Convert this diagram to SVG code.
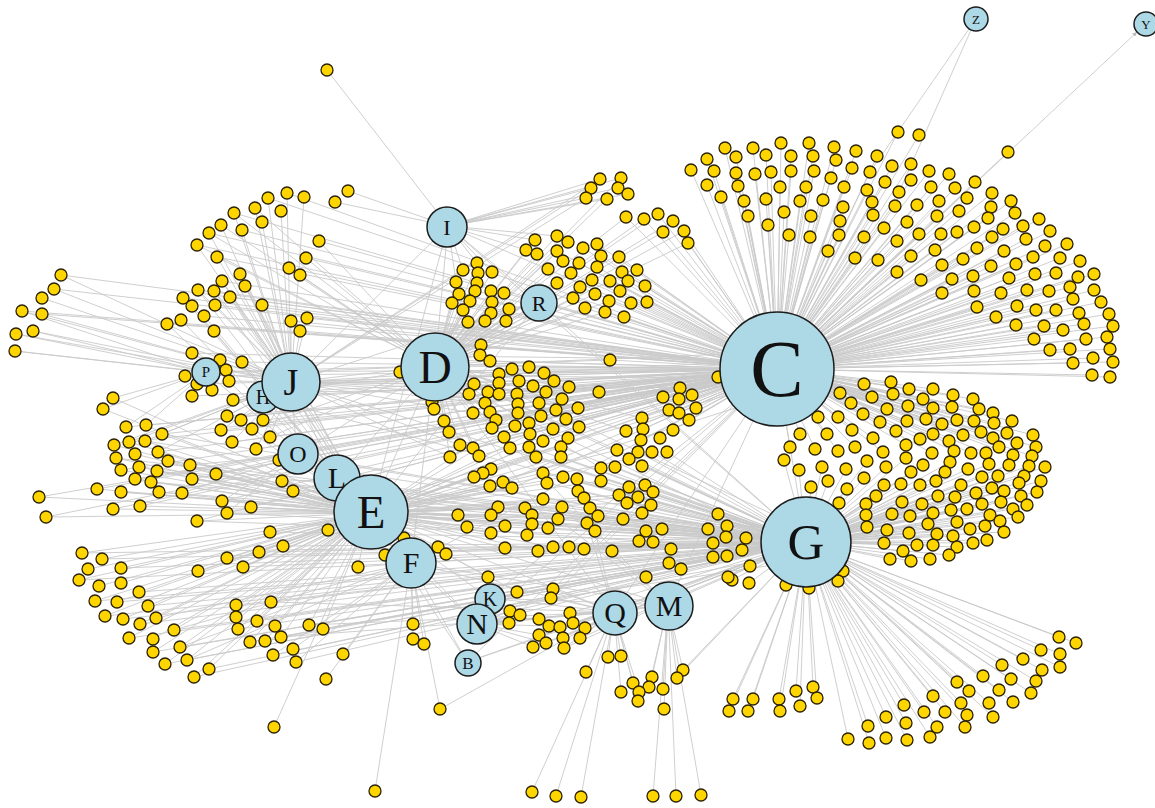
<svg xmlns="http://www.w3.org/2000/svg" width="1155" height="808" viewBox="0 0 1155 808">
<style>
.e path{fill:none;stroke:#c9c9c9;stroke-width:0.9}
.y circle{fill:#FFD500;stroke:#2b2200;stroke-width:1.3}
.h circle{fill:#ADD8E6;stroke:#1c1c1c;stroke-width:1.5}
.h text{font-family:"Liberation Serif","Times New Roman",serif;fill:#111;text-anchor:middle}
</style>
<defs>
<marker id="ah" viewBox="0 0 10 10" refX="10" refY="5" markerWidth="5" markerHeight="5" orient="auto"><path d="M0 0L10 5L0 10z" fill="#b8b8b8"/></marker>
</defs>
<rect width="1155" height="808" fill="#fff"/>
<g id="edges" class="e">
<path id="e-C" d="M898 132L777 369M919 135L777 369M1008 152L777 369M725 148L777 369M753 148L777 369M781 143L777 369M809 143L777 369M834 147L777 369M856 151L777 369M877 156L777 369M707 159L777 369M736 157L777 369M766 155L777 369M791 156L777 369M813 156L777 369M836 160L777 369M852 168L777 369M892 166L777 369M911 164L777 369M929 171L777 369M949 174L777 369M975 182L777 369M691 170L777 369M714 171L777 369M736 173L777 369M755 174L777 369M771 172L777 369M791 171L777 369M814 171L777 369M831 178L777 369M870 172L777 369M885 182L777 369M911 180L777 369M931 187L777 369M955 188L777 369M992 193L777 369M1011 201L777 369M707 185L777 369M738 186L777 369M780 187L777 369M806 187L777 369M844 187L777 369M867 190L777 369M899 192L777 369M967 198L777 369M721 197L777 369M744 201L777 369M766 199L777 369M800 201L777 369M823 200L777 369M843 207L777 369M872 202L777 369M895 206L777 369M917 205L777 369M939 201L777 369M959 211L777 369M991 207L777 369M1015 213L777 369M1039 219L777 369M748 216L777 369M784 212L777 369M811 216L777 369M840 221L777 369M873 215L777 369M907 222L777 369M937 216L777 369M988 218L777 369M1023 226L777 369M1050 231L777 369M768 225L777 369M789 235L777 369M810 237L777 369M839 235L777 369M864 237L777 369M884 228L777 369M919 234L777 369M941 234L777 369M957 232L777 369M974 227L777 369M1003 229L777 369M1026 239L777 369M1045 246L777 369M1067 244L777 369M828 251L777 369M855 258L777 369M878 260L777 369M897 241L777 369M911 256L777 369M935 250L777 369M963 259L777 369M977 248L777 369M992 237L777 369M1004 251L777 369M1033 257L777 369M1060 258L777 369M1080 261L777 369M897 272L777 369M921 280L777 369M942 265L777 369M952 279L777 369M973 276L777 369M991 266L777 369M1009 278L777 369M1016 264L777 369M1035 274L777 369M1056 273L777 369M1078 277L777 369M1094 274L777 369M942 293L777 369M974 291L777 369M1001 293L777 369M1027 290L777 369M1049 291L777 369M1070 287L777 369M1094 290L777 369M977 307L777 369M1017 306L777 369M1036 310L777 369M1056 310L777 369M1073 299L777 369M1101 302L777 369M996 317L777 369M1016 325L777 369M1044 326L777 369M1063 330L777 369M1079 313L777 369M1084 324L777 369M1109 314L777 369M1113 326L777 369M1034 339L777 369M1086 339L777 369M1107 337L777 369M1050 350L777 369M1070 349L777 369M1110 349L777 369M1073 363L777 369M1093 358L777 369M1113 362L777 369M1092 375L777 369M1110 377L777 369"/>
<path id="e-C2" d="M864 384L777 369M891 382L777 369M893 394L777 369M909 389L777 369M933 389L777 369M953 395L777 369M973 399L777 369M840 393L777 369M872 397L777 369M923 399L777 369M851 403L777 369M887 409L777 369M908 406L777 369M933 408L777 369M952 407L777 369M979 409L777 369M993 413L777 369M1012 421L777 369M818 417L777 369M838 417L777 369M863 414L777 369M880 422L777 369M907 421L777 369M926 419L777 369M942 424L777 369M957 420L777 369M974 421L777 369M994 423L777 369M800 434L777 369M827 434L777 369M852 430L777 369M873 438L777 369M896 431L777 369M920 439L777 369M933 434L777 369M949 441L777 369M963 435L777 369M981 432L777 369M993 438L777 369M1007 433L777 369M1017 443L777 369M1033 435L777 369M790 447L777 369M815 449L777 369M838 451L777 369M855 447L777 369M883 452L777 369M906 445L777 369M932 453L777 369M954 451L777 369M971 453L777 369M986 453L777 369M999 447L777 369M1013 455L777 369M1036 447L777 369M1032 456L777 369M680 388L777 369M692 395L777 369M663 397L777 369M679 399L777 369M669 410L777 369M679 413L777 369M696 408L777 369M689 420L777 369M642 418L777 369M643 429L777 369M626 431L777 369M673 430L777 369M641 440L777 369M660 438L777 369M610 360L777 369M599 392L777 369M718 377L777 369M512 369L777 369M529 367L777 369M544 373L777 369M519 381L777 369M554 381L777 369M533 386L777 369M569 387L777 369M517 394L777 369M546 392L777 369M562 399L777 369M518 404L777 369M539 403L777 369M556 410L777 369M578 408L777 369M518 413L777 369M541 416L777 369M566 419L777 369M515 426L777 369M529 423L777 369M553 429L777 369M579 427L777 369M530 434L777 369M543 441L777 369M568 438L777 369M583 248L777 369M597 244L777 369M601 256L777 369M619 257L777 369M579 263L777 369M597 267L777 369M622 272L777 369M637 270L777 369M592 280L777 369M610 281L777 369M628 281L777 369M645 286L777 369M620 291L777 369M609 301L777 369M631 303L777 369M647 302L777 369M605 312L777 369M624 317L777 369M626 217L777 369M644 219L777 369M658 214L777 369M673 221L777 369M663 232L777 369M684 231L777 369M688 243L777 369M490 361L777 369M499 374L777 369M488 392L777 369M485 403L777 369M490 412L777 369M496 420L777 369M504 437L777 369M473 448L777 369M479 456L777 369M491 469L777 369M503 482L777 369M512 488L777 369M557 251L777 369M571 273L777 369M580 287L777 369M585 308L777 369M287 193L777 369M268 198L777 369M242 230L777 369M319 241L777 369M306 258L777 369M289 268L777 369M262 305L777 369M242 362L777 369M39 497L777 369M46 517L777 369M97 489L777 369M553 589L777 369M551 598L777 369"/>
<path id="e-G" d="M784 460L806 542M822 467L806 542M846 469L806 542M867 461L806 542M886 467L806 542M906 458L806 542M923 465L806 542M950 462L806 542M968 469L806 542M989 464L806 542M1009 465L806 542M1029 466L806 542M1045 467L806 542M799 470L806 542M864 478L806 542M911 472L806 542M936 481L806 542M945 472L806 542M982 477L806 542M998 476L806 542M1024 476L806 542M1041 481L806 542M811 487L806 542M828 481L806 542M847 489L806 542M884 485L806 542M901 484L806 542M920 485L806 542M961 485L806 542M976 493L806 542M992 488L806 542M1004 491L806 542M1019 483L806 542M1037 492L806 542M839 503L806 542M866 504L806 542M876 496L806 542M902 502L806 542M922 504L806 542M938 496L806 542M955 497L806 542M982 504L806 542M1001 502L806 542M1021 496L806 542M1027 505L806 542M866 515L806 542M892 514L806 542M910 516L806 542M933 513L806 542M951 510L806 542M967 509L806 542M990 515L806 542M1013 509L806 542M1018 517L806 542M867 527L806 542M887 530L806 542M909 533L806 542M928 524L806 542M937 534L806 542M957 522L806 542M970 529L806 542M985 526L806 542M1000 521L806 542M1004 532L806 542M884 543L806 542M917 545L806 542M933 545L806 542M953 536L806 542M957 547L806 542M973 543L806 542M987 540L806 542M890 559L806 542M903 551L806 542M911 561L806 542M930 559L806 542M949 555L806 542M843 571L806 542M838 581L806 542M732 580L806 542M749 583L806 542M786 585L806 542M809 588L806 542M1059 637L806 542M1076 643L806 542M1041 650L806 542M1060 654L806 542M1060 667L806 542M1023 659L806 542M1042 670L806 542M1036 681L806 542M1031 693L806 542M1002 665L806 542M983 676L806 542M1011 679L806 542M999 690L806 542M1013 702L806 542M989 703L806 542M993 717L806 542M957 682L806 542M969 691L806 542M961 703L806 542M967 715L806 542M965 727L806 542M933 696L806 542M904 705L806 542M924 712L806 542M945 712L806 542M937 727L806 542M930 737L806 542M906 723L806 542M907 740L806 542M886 717L806 542M868 726L806 542M886 738L806 542M869 743L806 542M848 739L806 542M733 699L806 542M753 699L806 542M729 711L806 542M748 711L806 542M779 699L806 542M780 711L806 542M796 691L806 542M813 687L806 542M817 698L806 542M800 706L806 542M718 514L806 542M708 529L806 542M727 526L806 542M713 543L806 542M726 537L806 542M713 557L806 542M727 556L806 542M728 577L806 542M746 538L806 542M742 550L806 542M750 566L806 542M646 577L806 542M617 450L806 542M638 452L806 542M652 452L806 542M667 452L806 542M629 459L806 542M642 466L806 542M601 468L806 542M615 467L806 542M629 487L806 542M645 485L806 542M653 492L806 542M619 495L806 542M638 497L806 542M627 503L806 542M651 505L806 542M623 519L806 542M642 513L806 542M601 481L806 542M646 531L806 542M662 529L806 542M639 541L806 542M653 542L806 542M671 549L806 542M669 563L806 542M681 569L806 542M577 479L806 542M578 491L806 542M584 498L806 542M590 508L806 542M598 516L806 542M587 523L806 542M595 531L806 542M569 547L806 542M584 549L806 542M612 551L806 542M510 448L806 542M529 447L806 542M561 447L806 542M536 457L806 542M561 457L806 542M543 473L806 542M563 477L806 542M547 483L806 542M562 507L806 542M558 519L806 542M548 528L806 542M553 547L806 542M538 551L806 542M505 548L806 542M525 508L806 542M532 515L806 542M283 546L806 542M259 552L806 542M82 553L806 542M79 580L806 542M95 601L806 542M105 616L806 542M129 638L806 542M153 652L806 542M165 664L806 542M194 677L806 542M236 605L806 542M250 642L806 542M273 655L806 542M296 662L806 542M570 613L806 542M573 623L806 542M585 628L806 542M580 638L806 542M564 648L806 542M683 670L806 542M677 678L806 542M539 635L806 542M546 643L806 542M533 647L806 542"/>
<path id="e-D" d="M477 263L435 366M463 270L435 366M492 272L435 366M478 273L435 366M456 282L435 366M477 283L435 366M475 291L435 366M491 291L435 366M504 293L435 366M459 294L435 366M470 301L435 366M492 302L435 366M452 303L435 366M463 310L435 366M509 309L435 366M491 313L435 366M468 322L435 366M485 321L435 366M506 321L435 366M535 240L435 366M557 236L435 366M568 242L435 366M526 250L435 366M537 254L435 366M557 251L435 366M563 261L435 366M548 269L435 366M571 273L435 366M557 283L435 366M580 287L435 366M573 298L435 366M585 308L435 366M595 294L435 366M609 301L435 366M605 312L435 366M621 178L435 366M607 199L435 366M626 217L435 366M644 219L435 366M658 214L435 366M673 221L435 366M663 232L435 366M684 231L435 366M688 243L435 366M481 345L435 366M480 355L435 366M490 361L435 366M499 374L435 366M474 384L435 366M499 383L435 366M469 394L435 366M488 392L435 366M499 394L435 366M485 403L435 366M432 402L435 366M434 409L435 366M473 413L435 366M490 412L435 366M444 421L435 366M449 432L435 366M496 420L435 366M492 428L435 366M460 445L435 366M473 448L435 366M504 437L435 366M450 457L435 366M479 456L435 366M400 372L435 366M319 241L435 366M306 258L435 366M289 268L435 366M300 275L435 366M255 208L435 366M234 213L435 366M221 225L435 366M209 233L435 366M197 245L435 366M217 257L435 366M252 429L435 366M270 437L435 366M642 418L435 366M626 431L435 366M617 450L435 366M601 468L435 366M599 392L435 366M610 360L435 366"/>
<path id="e-E" d="M510 448L370 513M529 447L370 513M561 447L370 513M536 457L370 513M561 457L370 513M491 469L370 513M483 473L370 513M474 477L370 513M543 473L370 513M563 477L370 513M547 483L370 513M490 486L370 513M503 482L370 513M512 488L370 513M543 499L370 513M498 507L370 513M525 508L370 513M562 507L370 513M458 515L370 513M491 515L370 513M532 515L370 513M558 519L370 513M467 527L370 513M505 526L370 513M532 524L370 513M548 528L370 513M491 533L370 513M527 535L370 513M438 547L370 513M446 554L370 513M505 548L370 513M538 551L370 513M553 547L370 513M543 441L370 513M530 434L370 513M515 426L370 513M518 413L370 513M162 434L370 513M114 445L370 513M129 442L370 513M145 441L370 513M158 452L370 513M116 458L370 513M135 454L370 513M168 461L370 513M121 470L370 513M139 467L370 513M157 471L370 513M135 479L370 513M151 482L370 513M192 479L370 513M216 474L370 513M97 489L370 513M121 492L370 513M159 492L370 513M39 497L370 513M113 509L370 513M140 506L370 513M46 517L370 513M197 521L370 513M222 501L370 513M227 513L370 513M251 507L370 513M282 481L370 513M293 491L370 513M328 530L370 513M270 532L370 513M283 546L370 513M227 558L370 513M243 567L370 513M259 552L370 513M358 567L370 513M82 553L370 513M102 559L370 513M88 569L370 513M121 568L370 513M79 580L370 513M99 586L370 513M121 583L370 513M139 592L370 513M95 601L370 513M117 602L370 513M148 606L370 513M198 571L370 513M105 616L370 513M123 619L370 513M140 624L370 513M156 618L370 513M174 630L370 513M129 638L370 513M153 639L370 513M153 652L370 513M180 647L370 513M165 664L370 513M187 660L370 513M194 677L370 513M209 669L370 513M236 605L370 513M271 602L370 513M236 617L370 513M257 621L370 513M275 626L370 513M238 629L370 513M250 642L370 513M265 641L370 513M281 637L370 513M309 625L370 513M323 629L370 513M274 727L370 513M183 298L370 513M192 306L370 513M204 316L370 513M167 324L370 513M181 320L370 513M214 331L370 513M240 274L370 513M222 281L370 513M245 286L370 513M198 290L370 513M214 291L370 513M230 297L370 513M227 416L370 513M241 420L370 513M113 398L370 513M103 409L370 513M488 577L370 513M517 592L370 513M617 450L370 513M629 459L370 513M601 481L370 513M619 495L370 513M627 503L370 513M623 519L370 513M638 497L370 513M646 531L370 513"/>
<path id="e-J" d="M287 193L291 382M304 197L291 382M268 198L291 382M255 208L291 382M281 211L291 382M234 213L291 382M262 222L291 382M221 225L291 382M242 230L291 382M209 233L291 382M197 245L291 382M217 257L291 382M240 274L291 382M222 281L291 382M245 286L291 382M198 290L291 382M214 291L291 382M230 297L291 382M215 305L291 382M262 305L291 382M291 321L291 382M307 318L291 382M300 331L291 382M61 275L291 382M54 289L291 382M42 298L291 382M22 311L291 382M42 314L291 382M33 331L291 382M16 334L291 382M15 351L291 382M242 362L291 382M229 381L291 382M233 400L291 382M227 416L291 382M241 420L291 382M263 420L291 382M221 430L291 382M252 429L291 382M232 442L291 382M270 437L291 382M256 449L291 382M162 434L291 382M129 442L291 382M145 441L291 382M114 445L291 382M158 452L291 382M600 179L291 382M591 188L291 382M586 198L291 382M474 384L291 382M469 394L291 382M485 403L291 382M473 413L291 382M460 445L291 382M450 457L291 382M512 369L291 382M519 381L291 382M533 386L291 382M546 392L291 382"/>
<path id="e-mesh" d="M162 434L777 369M129 442L777 369M158 452L777 369M135 479L777 369M192 479L777 369M216 474L777 369M121 470L777 369M113 509L777 369M140 506L777 369M197 521L777 369M222 501L777 369M251 507L777 369M192 353L777 369M185 376L777 369M197 384L777 369M192 396L777 369M126 427L777 369M146 425L777 369M233 400L777 369M227 416L777 369M263 420L777 369M221 430L777 369M232 442L777 369M256 449L777 369M61 275L777 369M42 314L777 369M22 311L777 369M54 289L777 369M234 213L777 369M209 233L777 369M197 245L777 369M217 257L777 369M222 281L777 369M198 290L777 369M214 291L777 369M230 297L777 369M215 305L777 369M183 298L777 369M204 316L777 369M167 324L777 369M300 331L777 369M291 321L777 369M307 318L777 369M162 434L806 542M145 441L806 542M168 461L806 542M157 471L806 542M151 482L806 542M159 492L806 542M121 492L806 542M139 467L806 542M116 458L806 542M192 479L806 542M197 521L806 542M227 513L806 542M251 507L806 542M270 532L806 542M227 558L806 542M243 567L806 542M121 568L806 542M102 559L806 542M139 592L806 542M148 606L806 542M117 602L806 542M123 619L806 542M140 624L806 542M174 630L806 542M180 647L806 542M187 660L806 542M209 669L806 542M238 629L806 542M257 621L806 542M265 641L806 542M281 637L806 542M309 625L806 542M323 629L806 542M562 507L668 605M558 519L668 605M595 531L614 612M587 523L614 612"/>
<path id="e-P" d="M192 353L206 372M220 360L206 372M226 370L206 372M185 376L206 372M197 384L206 372M212 390L206 372M192 396L206 372M113 398L206 372M103 409L206 372M126 427L206 372M146 425L206 372M15 351L206 372M16 334L206 372M33 331L206 372M22 311L206 372"/>
<path id="e-O" d="M279 460L297 455M190 465L297 455M182 493L297 455M216 474L297 455M222 501L297 455M227 513L297 455M282 481L336 480M293 491L336 480"/>
<path id="e-F" d="M385 555L411 563M404 538L411 563M413 624L411 563M413 639L411 563M424 644L411 563M440 709L411 563M375 791L411 563M273 655L411 563M293 649L411 563M296 662L411 563M343 654L411 563M326 679L411 563M358 567L411 563M156 618L411 563M174 630L411 563M180 647L411 563M187 660L411 563"/>
<path id="e-I" d="M327 70L448 226M348 191L448 226M335 202L448 226M600 179L448 226M621 178L448 226M591 188L448 226M618 188L448 226M586 198L448 226M607 199L448 226M628 194L448 226M477 263L448 226M463 270L448 226M492 272L448 226M456 282L448 226M535 240L448 226M526 250L448 226M557 236L448 226"/>
<path id="e-N" d="M488 577L477 624M517 592L477 624M510 611L477 624M520 615L477 624M509 623L477 624M539 619L477 624M549 626L477 624M539 635L477 624M546 643L477 624M533 647L477 624"/>
<path id="e-Q" d="M553 589L614 612M551 598L614 612M560 627L614 612M570 613L614 612M573 623L614 612M585 628L614 612M580 638L614 612M563 638L614 612M564 648L614 612M608 657L614 612M621 656L614 612M586 672L614 612M633 683L614 612M621 692L614 612M639 692L614 612M638 701L614 612M532 792L614 612M556 796L614 612M581 797L614 612M440 709L614 612M271 602L614 612M281 637L614 612M309 625L614 612"/>
<path id="e-M" d="M652 677L668 605M649 687L668 605M663 689L668 605M664 709L668 605M683 670L668 605M677 678L668 605M653 796L668 605M676 796L668 605M701 795L668 605"/>
<path id="e-hubs" d="M777 369L435 366M777 369L291 382M777 369L370 513M777 369L806 542M777 369L448 226M777 369L539 302M777 369L297 455M777 369L336 480M777 369L411 563M777 369L614 612M777 369L668 605M777 369L477 624M777 369L489 598M777 369L263 397M777 369L206 372M777 369L467 662M806 542L370 513M806 542L435 366M806 542L291 382M806 542L411 563M806 542L477 624M806 542L489 598M806 542L614 612M806 542L336 480M806 542L297 455M806 542L467 662M806 542L448 226M806 542L539 302M806 542L263 397M435 366L291 382M435 366L370 513M435 366L448 226M435 366L539 302M435 366L297 455M435 366L336 480M435 366L411 563M435 366L263 397M435 366L206 372M435 366L614 612M435 366L668 605M370 513L291 382M370 513L411 563M370 513L448 226M370 513L614 612M370 513L668 605M370 513L477 624M370 513L489 598M370 513L263 397M370 513L206 372M370 513L539 302M291 382L448 226M291 382L411 563M291 382L297 455M291 382L336 480M291 382L206 372M291 382L539 302M411 563L614 612M411 563L668 605M411 563L477 624M477 624L614 612M477 624L668 605M489 598L614 612M489 598L668 605M467 662L370 513M467 662L411 563M467 662L614 612M668 605L614 612M448 226L539 302M777 360L435 356M777 378L435 376M777 352L291 372M777 386L291 392M777 380L370 503M777 395L370 523M806 530L370 503M806 552L370 523M806 530L435 356M806 552L435 376M777 360L263 387M777 375L297 445M806 532L411 553M806 552L477 614M806 560L489 608"/>
<path id="e-ZY" d="M870 172L969 29M899 192L971 30M777 369L1137 32" marker-end="url(#ah)"/>
</g>
<g id="yellow-nodes" class="y">
<g id="fan-C">
<circle id="n898_132" cx="898" cy="132" r="6"/><circle id="n919_135" cx="919" cy="135" r="6"/><circle id="n1008_152" cx="1008" cy="152" r="6"/><circle id="n725_148" cx="725" cy="148" r="6"/><circle id="n753_148" cx="753" cy="148" r="6"/><circle id="n781_143" cx="781" cy="143" r="6"/><circle id="n809_143" cx="809" cy="143" r="6"/><circle id="n834_147" cx="834" cy="147" r="6"/><circle id="n856_151" cx="856" cy="151" r="6"/><circle id="n877_156" cx="877" cy="156" r="6"/><circle id="n707_159" cx="707" cy="159" r="6"/><circle id="n736_157" cx="736" cy="157" r="6"/><circle id="n766_155" cx="766" cy="155" r="6"/><circle id="n791_156" cx="791" cy="156" r="6"/><circle id="n813_156" cx="813" cy="156" r="6"/><circle id="n836_160" cx="836" cy="160" r="6"/><circle id="n852_168" cx="852" cy="168" r="6"/><circle id="n892_166" cx="892" cy="166" r="6"/><circle id="n911_164" cx="911" cy="164" r="6"/><circle id="n929_171" cx="929" cy="171" r="6"/><circle id="n949_174" cx="949" cy="174" r="6"/><circle id="n975_182" cx="975" cy="182" r="6"/><circle id="n691_170" cx="691" cy="170" r="6"/><circle id="n714_171" cx="714" cy="171" r="6"/><circle id="n736_173" cx="736" cy="173" r="6"/><circle id="n755_174" cx="755" cy="174" r="6"/><circle id="n771_172" cx="771" cy="172" r="6"/><circle id="n791_171" cx="791" cy="171" r="6"/><circle id="n814_171" cx="814" cy="171" r="6"/><circle id="n831_178" cx="831" cy="178" r="6"/><circle id="n870_172" cx="870" cy="172" r="6"/><circle id="n885_182" cx="885" cy="182" r="6"/><circle id="n911_180" cx="911" cy="180" r="6"/><circle id="n931_187" cx="931" cy="187" r="6"/><circle id="n955_188" cx="955" cy="188" r="6"/><circle id="n992_193" cx="992" cy="193" r="6"/><circle id="n1011_201" cx="1011" cy="201" r="6"/><circle id="n707_185" cx="707" cy="185" r="6"/><circle id="n738_186" cx="738" cy="186" r="6"/><circle id="n780_187" cx="780" cy="187" r="6"/><circle id="n806_187" cx="806" cy="187" r="6"/><circle id="n844_187" cx="844" cy="187" r="6"/><circle id="n867_190" cx="867" cy="190" r="6"/><circle id="n899_192" cx="899" cy="192" r="6"/><circle id="n967_198" cx="967" cy="198" r="6"/><circle id="n721_197" cx="721" cy="197" r="6"/><circle id="n744_201" cx="744" cy="201" r="6"/><circle id="n766_199" cx="766" cy="199" r="6"/><circle id="n800_201" cx="800" cy="201" r="6"/><circle id="n823_200" cx="823" cy="200" r="6"/><circle id="n843_207" cx="843" cy="207" r="6"/><circle id="n872_202" cx="872" cy="202" r="6"/><circle id="n895_206" cx="895" cy="206" r="6"/><circle id="n917_205" cx="917" cy="205" r="6"/><circle id="n939_201" cx="939" cy="201" r="6"/><circle id="n959_211" cx="959" cy="211" r="6"/><circle id="n991_207" cx="991" cy="207" r="6"/><circle id="n1015_213" cx="1015" cy="213" r="6"/><circle id="n1039_219" cx="1039" cy="219" r="6"/><circle id="n748_216" cx="748" cy="216" r="6"/><circle id="n784_212" cx="784" cy="212" r="6"/><circle id="n811_216" cx="811" cy="216" r="6"/><circle id="n840_221" cx="840" cy="221" r="6"/><circle id="n873_215" cx="873" cy="215" r="6"/><circle id="n907_222" cx="907" cy="222" r="6"/><circle id="n937_216" cx="937" cy="216" r="6"/><circle id="n988_218" cx="988" cy="218" r="6"/><circle id="n1023_226" cx="1023" cy="226" r="6"/><circle id="n1050_231" cx="1050" cy="231" r="6"/><circle id="n768_225" cx="768" cy="225" r="6"/><circle id="n789_235" cx="789" cy="235" r="6"/><circle id="n810_237" cx="810" cy="237" r="6"/><circle id="n839_235" cx="839" cy="235" r="6"/><circle id="n864_237" cx="864" cy="237" r="6"/><circle id="n884_228" cx="884" cy="228" r="6"/><circle id="n919_234" cx="919" cy="234" r="6"/><circle id="n941_234" cx="941" cy="234" r="6"/><circle id="n957_232" cx="957" cy="232" r="6"/><circle id="n974_227" cx="974" cy="227" r="6"/><circle id="n1003_229" cx="1003" cy="229" r="6"/><circle id="n1026_239" cx="1026" cy="239" r="6"/><circle id="n1045_246" cx="1045" cy="246" r="6"/><circle id="n1067_244" cx="1067" cy="244" r="6"/><circle id="n828_251" cx="828" cy="251" r="6"/><circle id="n855_258" cx="855" cy="258" r="6"/><circle id="n878_260" cx="878" cy="260" r="6"/><circle id="n897_241" cx="897" cy="241" r="6"/><circle id="n911_256" cx="911" cy="256" r="6"/><circle id="n935_250" cx="935" cy="250" r="6"/><circle id="n963_259" cx="963" cy="259" r="6"/><circle id="n977_248" cx="977" cy="248" r="6"/><circle id="n992_237" cx="992" cy="237" r="6"/><circle id="n1004_251" cx="1004" cy="251" r="6"/><circle id="n1033_257" cx="1033" cy="257" r="6"/><circle id="n1060_258" cx="1060" cy="258" r="6"/><circle id="n1080_261" cx="1080" cy="261" r="6"/><circle id="n897_272" cx="897" cy="272" r="6"/><circle id="n921_280" cx="921" cy="280" r="6"/><circle id="n942_265" cx="942" cy="265" r="6"/><circle id="n952_279" cx="952" cy="279" r="6"/><circle id="n973_276" cx="973" cy="276" r="6"/><circle id="n991_266" cx="991" cy="266" r="6"/><circle id="n1009_278" cx="1009" cy="278" r="6"/><circle id="n1016_264" cx="1016" cy="264" r="6"/><circle id="n1035_274" cx="1035" cy="274" r="6"/><circle id="n1056_273" cx="1056" cy="273" r="6"/><circle id="n1078_277" cx="1078" cy="277" r="6"/><circle id="n1094_274" cx="1094" cy="274" r="6"/><circle id="n942_293" cx="942" cy="293" r="6"/><circle id="n974_291" cx="974" cy="291" r="6"/><circle id="n1001_293" cx="1001" cy="293" r="6"/><circle id="n1027_290" cx="1027" cy="290" r="6"/><circle id="n1049_291" cx="1049" cy="291" r="6"/><circle id="n1070_287" cx="1070" cy="287" r="6"/><circle id="n1094_290" cx="1094" cy="290" r="6"/><circle id="n977_307" cx="977" cy="307" r="6"/><circle id="n1017_306" cx="1017" cy="306" r="6"/><circle id="n1036_310" cx="1036" cy="310" r="6"/><circle id="n1056_310" cx="1056" cy="310" r="6"/><circle id="n1073_299" cx="1073" cy="299" r="6"/><circle id="n1101_302" cx="1101" cy="302" r="6"/><circle id="n996_317" cx="996" cy="317" r="6"/><circle id="n1016_325" cx="1016" cy="325" r="6"/><circle id="n1044_326" cx="1044" cy="326" r="6"/><circle id="n1063_330" cx="1063" cy="330" r="6"/><circle id="n1079_313" cx="1079" cy="313" r="6"/><circle id="n1084_324" cx="1084" cy="324" r="6"/><circle id="n1109_314" cx="1109" cy="314" r="6"/><circle id="n1113_326" cx="1113" cy="326" r="6"/><circle id="n1034_339" cx="1034" cy="339" r="6"/><circle id="n1086_339" cx="1086" cy="339" r="6"/><circle id="n1107_337" cx="1107" cy="337" r="6"/><circle id="n1050_350" cx="1050" cy="350" r="6"/><circle id="n1070_349" cx="1070" cy="349" r="6"/><circle id="n1110_349" cx="1110" cy="349" r="6"/><circle id="n1073_363" cx="1073" cy="363" r="6"/><circle id="n1093_358" cx="1093" cy="358" r="6"/><circle id="n1113_362" cx="1113" cy="362" r="6"/><circle id="n1092_375" cx="1092" cy="375" r="6"/><circle id="n1110_377" cx="1110" cy="377" r="6"/>
</g>
<g id="fan-right">
<circle id="n864_384" cx="864" cy="384" r="6"/><circle id="n891_382" cx="891" cy="382" r="6"/><circle id="n893_394" cx="893" cy="394" r="6"/><circle id="n909_389" cx="909" cy="389" r="6"/><circle id="n933_389" cx="933" cy="389" r="6"/><circle id="n953_395" cx="953" cy="395" r="6"/><circle id="n973_399" cx="973" cy="399" r="6"/><circle id="n840_393" cx="840" cy="393" r="6"/><circle id="n872_397" cx="872" cy="397" r="6"/><circle id="n923_399" cx="923" cy="399" r="6"/><circle id="n851_403" cx="851" cy="403" r="6"/><circle id="n887_409" cx="887" cy="409" r="6"/><circle id="n908_406" cx="908" cy="406" r="6"/><circle id="n933_408" cx="933" cy="408" r="6"/><circle id="n952_407" cx="952" cy="407" r="6"/><circle id="n979_409" cx="979" cy="409" r="6"/><circle id="n993_413" cx="993" cy="413" r="6"/><circle id="n1012_421" cx="1012" cy="421" r="6"/><circle id="n818_417" cx="818" cy="417" r="6"/><circle id="n838_417" cx="838" cy="417" r="6"/><circle id="n863_414" cx="863" cy="414" r="6"/><circle id="n880_422" cx="880" cy="422" r="6"/><circle id="n907_421" cx="907" cy="421" r="6"/><circle id="n926_419" cx="926" cy="419" r="6"/><circle id="n942_424" cx="942" cy="424" r="6"/><circle id="n957_420" cx="957" cy="420" r="6"/><circle id="n974_421" cx="974" cy="421" r="6"/><circle id="n994_423" cx="994" cy="423" r="6"/><circle id="n800_434" cx="800" cy="434" r="6"/><circle id="n827_434" cx="827" cy="434" r="6"/><circle id="n852_430" cx="852" cy="430" r="6"/><circle id="n873_438" cx="873" cy="438" r="6"/><circle id="n896_431" cx="896" cy="431" r="6"/><circle id="n920_439" cx="920" cy="439" r="6"/><circle id="n933_434" cx="933" cy="434" r="6"/><circle id="n949_441" cx="949" cy="441" r="6"/><circle id="n963_435" cx="963" cy="435" r="6"/><circle id="n981_432" cx="981" cy="432" r="6"/><circle id="n993_438" cx="993" cy="438" r="6"/><circle id="n1007_433" cx="1007" cy="433" r="6"/><circle id="n1017_443" cx="1017" cy="443" r="6"/><circle id="n1033_435" cx="1033" cy="435" r="6"/><circle id="n790_447" cx="790" cy="447" r="6"/><circle id="n815_449" cx="815" cy="449" r="6"/><circle id="n838_451" cx="838" cy="451" r="6"/><circle id="n855_447" cx="855" cy="447" r="6"/><circle id="n883_452" cx="883" cy="452" r="6"/><circle id="n906_445" cx="906" cy="445" r="6"/><circle id="n932_453" cx="932" cy="453" r="6"/><circle id="n954_451" cx="954" cy="451" r="6"/><circle id="n971_453" cx="971" cy="453" r="6"/><circle id="n986_453" cx="986" cy="453" r="6"/><circle id="n999_447" cx="999" cy="447" r="6"/><circle id="n1013_455" cx="1013" cy="455" r="6"/><circle id="n1036_447" cx="1036" cy="447" r="6"/><circle id="n1032_456" cx="1032" cy="456" r="6"/>
<circle id="n784_460" cx="784" cy="460" r="6"/><circle id="n822_467" cx="822" cy="467" r="6"/><circle id="n846_469" cx="846" cy="469" r="6"/><circle id="n867_461" cx="867" cy="461" r="6"/><circle id="n886_467" cx="886" cy="467" r="6"/><circle id="n906_458" cx="906" cy="458" r="6"/><circle id="n923_465" cx="923" cy="465" r="6"/><circle id="n950_462" cx="950" cy="462" r="6"/><circle id="n968_469" cx="968" cy="469" r="6"/><circle id="n989_464" cx="989" cy="464" r="6"/><circle id="n1009_465" cx="1009" cy="465" r="6"/><circle id="n1029_466" cx="1029" cy="466" r="6"/><circle id="n1045_467" cx="1045" cy="467" r="6"/><circle id="n799_470" cx="799" cy="470" r="6"/><circle id="n864_478" cx="864" cy="478" r="6"/><circle id="n911_472" cx="911" cy="472" r="6"/><circle id="n936_481" cx="936" cy="481" r="6"/><circle id="n945_472" cx="945" cy="472" r="6"/><circle id="n982_477" cx="982" cy="477" r="6"/><circle id="n998_476" cx="998" cy="476" r="6"/><circle id="n1024_476" cx="1024" cy="476" r="6"/><circle id="n1041_481" cx="1041" cy="481" r="6"/><circle id="n811_487" cx="811" cy="487" r="6"/><circle id="n828_481" cx="828" cy="481" r="6"/><circle id="n847_489" cx="847" cy="489" r="6"/><circle id="n884_485" cx="884" cy="485" r="6"/><circle id="n901_484" cx="901" cy="484" r="6"/><circle id="n920_485" cx="920" cy="485" r="6"/><circle id="n961_485" cx="961" cy="485" r="6"/><circle id="n976_493" cx="976" cy="493" r="6"/><circle id="n992_488" cx="992" cy="488" r="6"/><circle id="n1004_491" cx="1004" cy="491" r="6"/><circle id="n1019_483" cx="1019" cy="483" r="6"/><circle id="n1037_492" cx="1037" cy="492" r="6"/><circle id="n839_503" cx="839" cy="503" r="6"/><circle id="n866_504" cx="866" cy="504" r="6"/><circle id="n876_496" cx="876" cy="496" r="6"/><circle id="n902_502" cx="902" cy="502" r="6"/><circle id="n922_504" cx="922" cy="504" r="6"/><circle id="n938_496" cx="938" cy="496" r="6"/><circle id="n955_497" cx="955" cy="497" r="6"/><circle id="n982_504" cx="982" cy="504" r="6"/><circle id="n1001_502" cx="1001" cy="502" r="6"/><circle id="n1021_496" cx="1021" cy="496" r="6"/><circle id="n1027_505" cx="1027" cy="505" r="6"/><circle id="n866_515" cx="866" cy="515" r="6"/><circle id="n892_514" cx="892" cy="514" r="6"/><circle id="n910_516" cx="910" cy="516" r="6"/><circle id="n933_513" cx="933" cy="513" r="6"/><circle id="n951_510" cx="951" cy="510" r="6"/><circle id="n967_509" cx="967" cy="509" r="6"/><circle id="n990_515" cx="990" cy="515" r="6"/><circle id="n1013_509" cx="1013" cy="509" r="6"/><circle id="n1018_517" cx="1018" cy="517" r="6"/><circle id="n867_527" cx="867" cy="527" r="6"/><circle id="n887_530" cx="887" cy="530" r="6"/><circle id="n909_533" cx="909" cy="533" r="6"/><circle id="n928_524" cx="928" cy="524" r="6"/><circle id="n937_534" cx="937" cy="534" r="6"/><circle id="n957_522" cx="957" cy="522" r="6"/><circle id="n970_529" cx="970" cy="529" r="6"/><circle id="n985_526" cx="985" cy="526" r="6"/><circle id="n1000_521" cx="1000" cy="521" r="6"/><circle id="n1004_532" cx="1004" cy="532" r="6"/><circle id="n884_543" cx="884" cy="543" r="6"/><circle id="n917_545" cx="917" cy="545" r="6"/><circle id="n933_545" cx="933" cy="545" r="6"/><circle id="n953_536" cx="953" cy="536" r="6"/><circle id="n957_547" cx="957" cy="547" r="6"/><circle id="n973_543" cx="973" cy="543" r="6"/><circle id="n987_540" cx="987" cy="540" r="6"/><circle id="n890_559" cx="890" cy="559" r="6"/><circle id="n903_551" cx="903" cy="551" r="6"/><circle id="n911_561" cx="911" cy="561" r="6"/><circle id="n930_559" cx="930" cy="559" r="6"/><circle id="n949_555" cx="949" cy="555" r="6"/><circle id="n843_571" cx="843" cy="571" r="6"/><circle id="n838_581" cx="838" cy="581" r="6"/>
</g>
<g id="fan-G-bottom">
<circle id="n732_580" cx="732" cy="580" r="6"/><circle id="n749_583" cx="749" cy="583" r="6"/><circle id="n786_585" cx="786" cy="585" r="6"/><circle id="n809_588" cx="809" cy="588" r="6"/><circle id="n1059_637" cx="1059" cy="637" r="6"/><circle id="n1076_643" cx="1076" cy="643" r="6"/><circle id="n1041_650" cx="1041" cy="650" r="6"/><circle id="n1060_654" cx="1060" cy="654" r="6"/><circle id="n1060_667" cx="1060" cy="667" r="6"/><circle id="n1023_659" cx="1023" cy="659" r="6"/><circle id="n1042_670" cx="1042" cy="670" r="6"/><circle id="n1036_681" cx="1036" cy="681" r="6"/><circle id="n1031_693" cx="1031" cy="693" r="6"/><circle id="n1002_665" cx="1002" cy="665" r="6"/><circle id="n983_676" cx="983" cy="676" r="6"/><circle id="n1011_679" cx="1011" cy="679" r="6"/><circle id="n999_690" cx="999" cy="690" r="6"/><circle id="n1013_702" cx="1013" cy="702" r="6"/><circle id="n989_703" cx="989" cy="703" r="6"/><circle id="n993_717" cx="993" cy="717" r="6"/><circle id="n957_682" cx="957" cy="682" r="6"/><circle id="n969_691" cx="969" cy="691" r="6"/><circle id="n961_703" cx="961" cy="703" r="6"/><circle id="n967_715" cx="967" cy="715" r="6"/><circle id="n965_727" cx="965" cy="727" r="6"/><circle id="n933_696" cx="933" cy="696" r="6"/><circle id="n904_705" cx="904" cy="705" r="6"/><circle id="n924_712" cx="924" cy="712" r="6"/><circle id="n945_712" cx="945" cy="712" r="6"/><circle id="n937_727" cx="937" cy="727" r="6"/><circle id="n930_737" cx="930" cy="737" r="6"/><circle id="n906_723" cx="906" cy="723" r="6"/><circle id="n907_740" cx="907" cy="740" r="6"/><circle id="n886_717" cx="886" cy="717" r="6"/><circle id="n868_726" cx="868" cy="726" r="6"/><circle id="n886_738" cx="886" cy="738" r="6"/><circle id="n869_743" cx="869" cy="743" r="6"/><circle id="n848_739" cx="848" cy="739" r="6"/><circle id="n733_699" cx="733" cy="699" r="6"/><circle id="n753_699" cx="753" cy="699" r="6"/><circle id="n729_711" cx="729" cy="711" r="6"/><circle id="n748_711" cx="748" cy="711" r="6"/><circle id="n779_699" cx="779" cy="699" r="6"/><circle id="n780_711" cx="780" cy="711" r="6"/><circle id="n796_691" cx="796" cy="691" r="6"/><circle id="n813_687" cx="813" cy="687" r="6"/><circle id="n817_698" cx="817" cy="698" r="6"/><circle id="n800_706" cx="800" cy="706" r="6"/>
</g>
<g id="cluster-center-right">
<circle id="n718_514" cx="718" cy="514" r="6"/><circle id="n708_529" cx="708" cy="529" r="6"/><circle id="n727_526" cx="727" cy="526" r="6"/><circle id="n713_543" cx="713" cy="543" r="6"/><circle id="n726_537" cx="726" cy="537" r="6"/><circle id="n713_557" cx="713" cy="557" r="6"/><circle id="n727_556" cx="727" cy="556" r="6"/><circle id="n728_577" cx="728" cy="577" r="6"/><circle id="n746_538" cx="746" cy="538" r="6"/><circle id="n742_550" cx="742" cy="550" r="6"/><circle id="n750_566" cx="750" cy="566" r="6"/><circle id="n646_577" cx="646" cy="577" r="6"/>
<circle id="n680_388" cx="680" cy="388" r="6"/><circle id="n692_395" cx="692" cy="395" r="6"/><circle id="n663_397" cx="663" cy="397" r="6"/><circle id="n679_399" cx="679" cy="399" r="6"/><circle id="n669_410" cx="669" cy="410" r="6"/><circle id="n679_413" cx="679" cy="413" r="6"/><circle id="n696_408" cx="696" cy="408" r="6"/><circle id="n689_420" cx="689" cy="420" r="6"/><circle id="n642_418" cx="642" cy="418" r="6"/><circle id="n643_429" cx="643" cy="429" r="6"/><circle id="n626_431" cx="626" cy="431" r="6"/><circle id="n673_430" cx="673" cy="430" r="6"/><circle id="n641_440" cx="641" cy="440" r="6"/><circle id="n660_438" cx="660" cy="438" r="6"/><circle id="n610_360" cx="610" cy="360" r="6"/><circle id="n599_392" cx="599" cy="392" r="6"/><circle id="n718_377" cx="718" cy="377" r="6"/>
<circle id="n617_450" cx="617" cy="450" r="6"/><circle id="n638_452" cx="638" cy="452" r="6"/><circle id="n652_452" cx="652" cy="452" r="6"/><circle id="n667_452" cx="667" cy="452" r="6"/><circle id="n629_459" cx="629" cy="459" r="6"/><circle id="n642_466" cx="642" cy="466" r="6"/><circle id="n601_468" cx="601" cy="468" r="6"/><circle id="n615_467" cx="615" cy="467" r="6"/><circle id="n629_487" cx="629" cy="487" r="6"/><circle id="n645_485" cx="645" cy="485" r="6"/><circle id="n653_492" cx="653" cy="492" r="6"/><circle id="n619_495" cx="619" cy="495" r="6"/><circle id="n638_497" cx="638" cy="497" r="6"/><circle id="n627_503" cx="627" cy="503" r="6"/><circle id="n651_505" cx="651" cy="505" r="6"/><circle id="n623_519" cx="623" cy="519" r="6"/><circle id="n642_513" cx="642" cy="513" r="6"/><circle id="n601_481" cx="601" cy="481" r="6"/><circle id="n646_531" cx="646" cy="531" r="6"/><circle id="n662_529" cx="662" cy="529" r="6"/><circle id="n639_541" cx="639" cy="541" r="6"/><circle id="n653_542" cx="653" cy="542" r="6"/><circle id="n671_549" cx="671" cy="549" r="6"/><circle id="n669_563" cx="669" cy="563" r="6"/><circle id="n681_569" cx="681" cy="569" r="6"/>
</g>
<g id="cluster-center">
<circle id="n481_345" cx="481" cy="345" r="6"/><circle id="n480_355" cx="480" cy="355" r="6"/><circle id="n490_361" cx="490" cy="361" r="6"/><circle id="n512_369" cx="512" cy="369" r="6"/><circle id="n529_367" cx="529" cy="367" r="6"/><circle id="n544_373" cx="544" cy="373" r="6"/><circle id="n499_374" cx="499" cy="374" r="6"/><circle id="n519_381" cx="519" cy="381" r="6"/><circle id="n474_384" cx="474" cy="384" r="6"/><circle id="n554_381" cx="554" cy="381" r="6"/><circle id="n499_383" cx="499" cy="383" r="6"/><circle id="n533_386" cx="533" cy="386" r="6"/><circle id="n569_387" cx="569" cy="387" r="6"/><circle id="n469_394" cx="469" cy="394" r="6"/><circle id="n488_392" cx="488" cy="392" r="6"/><circle id="n499_394" cx="499" cy="394" r="6"/><circle id="n517_394" cx="517" cy="394" r="6"/><circle id="n546_392" cx="546" cy="392" r="6"/><circle id="n485_403" cx="485" cy="403" r="6"/><circle id="n518_404" cx="518" cy="404" r="6"/><circle id="n539_403" cx="539" cy="403" r="6"/><circle id="n562_399" cx="562" cy="399" r="6"/><circle id="n432_402" cx="432" cy="402" r="6"/><circle id="n434_409" cx="434" cy="409" r="6"/><circle id="n490_412" cx="490" cy="412" r="6"/><circle id="n518_413" cx="518" cy="413" r="6"/><circle id="n556_410" cx="556" cy="410" r="6"/><circle id="n578_408" cx="578" cy="408" r="6"/><circle id="n473_413" cx="473" cy="413" r="6"/><circle id="n541_416" cx="541" cy="416" r="6"/><circle id="n496_420" cx="496" cy="420" r="6"/><circle id="n566_419" cx="566" cy="419" r="6"/><circle id="n444_421" cx="444" cy="421" r="6"/><circle id="n449_432" cx="449" cy="432" r="6"/><circle id="n492_428" cx="492" cy="428" r="6"/><circle id="n515_426" cx="515" cy="426" r="6"/><circle id="n529_423" cx="529" cy="423" r="6"/><circle id="n553_429" cx="553" cy="429" r="6"/><circle id="n579_427" cx="579" cy="427" r="6"/><circle id="n504_437" cx="504" cy="437" r="6"/><circle id="n530_434" cx="530" cy="434" r="6"/><circle id="n543_441" cx="543" cy="441" r="6"/><circle id="n568_438" cx="568" cy="438" r="6"/><circle id="n460_445" cx="460" cy="445" r="6"/><circle id="n473_448" cx="473" cy="448" r="6"/><circle id="n510_448" cx="510" cy="448" r="6"/><circle id="n529_447" cx="529" cy="447" r="6"/><circle id="n561_447" cx="561" cy="447" r="6"/><circle id="n450_457" cx="450" cy="457" r="6"/><circle id="n479_456" cx="479" cy="456" r="6"/><circle id="n536_457" cx="536" cy="457" r="6"/><circle id="n561_457" cx="561" cy="457" r="6"/><circle id="n491_469" cx="491" cy="469" r="6"/><circle id="n483_473" cx="483" cy="473" r="6"/><circle id="n474_477" cx="474" cy="477" r="6"/><circle id="n543_473" cx="543" cy="473" r="6"/><circle id="n563_477" cx="563" cy="477" r="6"/><circle id="n577_479" cx="577" cy="479" r="6"/><circle id="n547_483" cx="547" cy="483" r="6"/><circle id="n490_486" cx="490" cy="486" r="6"/><circle id="n503_482" cx="503" cy="482" r="6"/><circle id="n512_488" cx="512" cy="488" r="6"/><circle id="n578_491" cx="578" cy="491" r="6"/><circle id="n543_499" cx="543" cy="499" r="6"/><circle id="n584_498" cx="584" cy="498" r="6"/><circle id="n498_507" cx="498" cy="507" r="6"/><circle id="n525_508" cx="525" cy="508" r="6"/><circle id="n562_507" cx="562" cy="507" r="6"/><circle id="n590_508" cx="590" cy="508" r="6"/><circle id="n458_515" cx="458" cy="515" r="6"/><circle id="n491_515" cx="491" cy="515" r="6"/><circle id="n532_515" cx="532" cy="515" r="6"/><circle id="n558_519" cx="558" cy="519" r="6"/><circle id="n598_516" cx="598" cy="516" r="6"/><circle id="n467_527" cx="467" cy="527" r="6"/><circle id="n505_526" cx="505" cy="526" r="6"/><circle id="n532_524" cx="532" cy="524" r="6"/><circle id="n548_528" cx="548" cy="528" r="6"/><circle id="n587_523" cx="587" cy="523" r="6"/><circle id="n595_531" cx="595" cy="531" r="6"/><circle id="n491_533" cx="491" cy="533" r="6"/><circle id="n527_535" cx="527" cy="535" r="6"/><circle id="n438_547" cx="438" cy="547" r="6"/><circle id="n505_548" cx="505" cy="548" r="6"/><circle id="n538_551" cx="538" cy="551" r="6"/><circle id="n553_547" cx="553" cy="547" r="6"/><circle id="n569_547" cx="569" cy="547" r="6"/><circle id="n584_549" cx="584" cy="549" r="6"/><circle id="n612_551" cx="612" cy="551" r="6"/><circle id="n446_554" cx="446" cy="554" r="6"/><circle id="n400_372" cx="400" cy="372" r="6"/>
</g>
<g id="cluster-R">
<circle id="n477_263" cx="477" cy="263" r="6"/><circle id="n463_270" cx="463" cy="270" r="6"/><circle id="n492_272" cx="492" cy="272" r="6"/><circle id="n478_273" cx="478" cy="273" r="6"/><circle id="n456_282" cx="456" cy="282" r="6"/><circle id="n477_283" cx="477" cy="283" r="6"/><circle id="n475_291" cx="475" cy="291" r="6"/><circle id="n491_291" cx="491" cy="291" r="6"/><circle id="n504_293" cx="504" cy="293" r="6"/><circle id="n459_294" cx="459" cy="294" r="6"/><circle id="n470_301" cx="470" cy="301" r="6"/><circle id="n492_302" cx="492" cy="302" r="6"/><circle id="n452_303" cx="452" cy="303" r="6"/><circle id="n463_310" cx="463" cy="310" r="6"/><circle id="n509_309" cx="509" cy="309" r="6"/><circle id="n491_313" cx="491" cy="313" r="6"/><circle id="n468_322" cx="468" cy="322" r="6"/><circle id="n485_321" cx="485" cy="321" r="6"/><circle id="n506_321" cx="506" cy="321" r="6"/>
<circle id="n535_240" cx="535" cy="240" r="6"/><circle id="n557_236" cx="557" cy="236" r="6"/><circle id="n568_242" cx="568" cy="242" r="6"/><circle id="n526_250" cx="526" cy="250" r="6"/><circle id="n537_254" cx="537" cy="254" r="6"/><circle id="n557_251" cx="557" cy="251" r="6"/><circle id="n583_248" cx="583" cy="248" r="6"/><circle id="n597_244" cx="597" cy="244" r="6"/><circle id="n563_261" cx="563" cy="261" r="6"/><circle id="n601_256" cx="601" cy="256" r="6"/><circle id="n619_257" cx="619" cy="257" r="6"/><circle id="n548_269" cx="548" cy="269" r="6"/><circle id="n579_263" cx="579" cy="263" r="6"/><circle id="n597_267" cx="597" cy="267" r="6"/><circle id="n622_272" cx="622" cy="272" r="6"/><circle id="n637_270" cx="637" cy="270" r="6"/><circle id="n571_273" cx="571" cy="273" r="6"/><circle id="n592_280" cx="592" cy="280" r="6"/><circle id="n610_281" cx="610" cy="281" r="6"/><circle id="n628_281" cx="628" cy="281" r="6"/><circle id="n557_283" cx="557" cy="283" r="6"/><circle id="n580_287" cx="580" cy="287" r="6"/><circle id="n645_286" cx="645" cy="286" r="6"/><circle id="n595_294" cx="595" cy="294" r="6"/><circle id="n620_291" cx="620" cy="291" r="6"/><circle id="n573_298" cx="573" cy="298" r="6"/><circle id="n609_301" cx="609" cy="301" r="6"/><circle id="n631_303" cx="631" cy="303" r="6"/><circle id="n647_302" cx="647" cy="302" r="6"/><circle id="n585_308" cx="585" cy="308" r="6"/><circle id="n605_312" cx="605" cy="312" r="6"/><circle id="n624_317" cx="624" cy="317" r="6"/>
<circle id="n600_179" cx="600" cy="179" r="6"/><circle id="n621_178" cx="621" cy="178" r="6"/><circle id="n591_188" cx="591" cy="188" r="6"/><circle id="n618_188" cx="618" cy="188" r="6"/><circle id="n586_198" cx="586" cy="198" r="6"/><circle id="n607_199" cx="607" cy="199" r="6"/><circle id="n628_194" cx="628" cy="194" r="6"/><circle id="n626_217" cx="626" cy="217" r="6"/><circle id="n644_219" cx="644" cy="219" r="6"/><circle id="n658_214" cx="658" cy="214" r="6"/><circle id="n673_221" cx="673" cy="221" r="6"/><circle id="n663_232" cx="663" cy="232" r="6"/><circle id="n684_231" cx="684" cy="231" r="6"/><circle id="n688_243" cx="688" cy="243" r="6"/><circle id="n327_70" cx="327" cy="70" r="6"/>
</g>
<g id="cluster-left">
<circle id="n348_191" cx="348" cy="191" r="6"/><circle id="n335_202" cx="335" cy="202" r="6"/><circle id="n287_193" cx="287" cy="193" r="6"/><circle id="n304_197" cx="304" cy="197" r="6"/><circle id="n268_198" cx="268" cy="198" r="6"/><circle id="n255_208" cx="255" cy="208" r="6"/><circle id="n281_211" cx="281" cy="211" r="6"/><circle id="n234_213" cx="234" cy="213" r="6"/><circle id="n262_222" cx="262" cy="222" r="6"/><circle id="n221_225" cx="221" cy="225" r="6"/><circle id="n242_230" cx="242" cy="230" r="6"/><circle id="n209_233" cx="209" cy="233" r="6"/><circle id="n197_245" cx="197" cy="245" r="6"/><circle id="n319_241" cx="319" cy="241" r="6"/><circle id="n217_257" cx="217" cy="257" r="6"/><circle id="n306_258" cx="306" cy="258" r="6"/><circle id="n289_268" cx="289" cy="268" r="6"/><circle id="n300_275" cx="300" cy="275" r="6"/><circle id="n240_274" cx="240" cy="274" r="6"/><circle id="n222_281" cx="222" cy="281" r="6"/><circle id="n245_286" cx="245" cy="286" r="6"/><circle id="n198_290" cx="198" cy="290" r="6"/><circle id="n214_291" cx="214" cy="291" r="6"/><circle id="n230_297" cx="230" cy="297" r="6"/><circle id="n183_298" cx="183" cy="298" r="6"/><circle id="n192_306" cx="192" cy="306" r="6"/><circle id="n215_305" cx="215" cy="305" r="6"/><circle id="n262_305" cx="262" cy="305" r="6"/><circle id="n204_316" cx="204" cy="316" r="6"/><circle id="n167_324" cx="167" cy="324" r="6"/><circle id="n181_320" cx="181" cy="320" r="6"/><circle id="n291_321" cx="291" cy="321" r="6"/><circle id="n307_318" cx="307" cy="318" r="6"/><circle id="n300_331" cx="300" cy="331" r="6"/><circle id="n214_331" cx="214" cy="331" r="6"/>
<circle id="n61_275" cx="61" cy="275" r="6"/><circle id="n54_289" cx="54" cy="289" r="6"/><circle id="n42_298" cx="42" cy="298" r="6"/><circle id="n22_311" cx="22" cy="311" r="6"/><circle id="n42_314" cx="42" cy="314" r="6"/><circle id="n33_331" cx="33" cy="331" r="6"/><circle id="n16_334" cx="16" cy="334" r="6"/><circle id="n15_351" cx="15" cy="351" r="6"/>
<circle id="n192_353" cx="192" cy="353" r="6"/><circle id="n220_360" cx="220" cy="360" r="6"/><circle id="n242_362" cx="242" cy="362" r="6"/><circle id="n226_370" cx="226" cy="370" r="6"/><circle id="n185_376" cx="185" cy="376" r="6"/><circle id="n229_381" cx="229" cy="381" r="6"/><circle id="n197_384" cx="197" cy="384" r="6"/><circle id="n212_390" cx="212" cy="390" r="6"/><circle id="n192_396" cx="192" cy="396" r="6"/><circle id="n233_400" cx="233" cy="400" r="6"/><circle id="n113_398" cx="113" cy="398" r="6"/><circle id="n103_409" cx="103" cy="409" r="6"/><circle id="n227_416" cx="227" cy="416" r="6"/><circle id="n241_420" cx="241" cy="420" r="6"/><circle id="n263_420" cx="263" cy="420" r="6"/><circle id="n126_427" cx="126" cy="427" r="6"/><circle id="n146_425" cx="146" cy="425" r="6"/>
<circle id="n221_430" cx="221" cy="430" r="6"/><circle id="n252_429" cx="252" cy="429" r="6"/><circle id="n232_442" cx="232" cy="442" r="6"/><circle id="n270_437" cx="270" cy="437" r="6"/><circle id="n256_449" cx="256" cy="449" r="6"/><circle id="n279_460" cx="279" cy="460" r="6"/><circle id="n190_465" cx="190" cy="465" r="6"/><circle id="n182_493" cx="182" cy="493" r="6"/><circle id="n282_481" cx="282" cy="481" r="6"/><circle id="n293_491" cx="293" cy="491" r="6"/><circle id="n328_530" cx="328" cy="530" r="6"/><circle id="n270_532" cx="270" cy="532" r="6"/><circle id="n283_546" cx="283" cy="546" r="6"/><circle id="n227_558" cx="227" cy="558" r="6"/><circle id="n243_567" cx="243" cy="567" r="6"/><circle id="n259_552" cx="259" cy="552" r="6"/><circle id="n358_567" cx="358" cy="567" r="6"/>
<circle id="n162_434" cx="162" cy="434" r="6"/><circle id="n114_445" cx="114" cy="445" r="6"/><circle id="n129_442" cx="129" cy="442" r="6"/><circle id="n145_441" cx="145" cy="441" r="6"/><circle id="n158_452" cx="158" cy="452" r="6"/><circle id="n116_458" cx="116" cy="458" r="6"/><circle id="n135_454" cx="135" cy="454" r="6"/><circle id="n168_461" cx="168" cy="461" r="6"/><circle id="n121_470" cx="121" cy="470" r="6"/><circle id="n139_467" cx="139" cy="467" r="6"/><circle id="n157_471" cx="157" cy="471" r="6"/><circle id="n135_479" cx="135" cy="479" r="6"/><circle id="n151_482" cx="151" cy="482" r="6"/><circle id="n192_479" cx="192" cy="479" r="6"/><circle id="n216_474" cx="216" cy="474" r="6"/><circle id="n97_489" cx="97" cy="489" r="6"/><circle id="n121_492" cx="121" cy="492" r="6"/><circle id="n159_492" cx="159" cy="492" r="6"/><circle id="n39_497" cx="39" cy="497" r="6"/><circle id="n113_509" cx="113" cy="509" r="6"/><circle id="n140_506" cx="140" cy="506" r="6"/><circle id="n46_517" cx="46" cy="517" r="6"/><circle id="n197_521" cx="197" cy="521" r="6"/><circle id="n222_501" cx="222" cy="501" r="6"/><circle id="n227_513" cx="227" cy="513" r="6"/><circle id="n251_507" cx="251" cy="507" r="6"/>
</g>
<g id="cluster-bottom-left">
<circle id="n82_553" cx="82" cy="553" r="6"/><circle id="n102_559" cx="102" cy="559" r="6"/><circle id="n88_569" cx="88" cy="569" r="6"/><circle id="n121_568" cx="121" cy="568" r="6"/><circle id="n79_580" cx="79" cy="580" r="6"/><circle id="n99_586" cx="99" cy="586" r="6"/><circle id="n121_583" cx="121" cy="583" r="6"/><circle id="n139_592" cx="139" cy="592" r="6"/><circle id="n95_601" cx="95" cy="601" r="6"/><circle id="n117_602" cx="117" cy="602" r="6"/><circle id="n148_606" cx="148" cy="606" r="6"/><circle id="n198_571" cx="198" cy="571" r="6"/><circle id="n105_616" cx="105" cy="616" r="6"/><circle id="n123_619" cx="123" cy="619" r="6"/><circle id="n140_624" cx="140" cy="624" r="6"/><circle id="n156_618" cx="156" cy="618" r="6"/><circle id="n174_630" cx="174" cy="630" r="6"/><circle id="n129_638" cx="129" cy="638" r="6"/><circle id="n153_639" cx="153" cy="639" r="6"/><circle id="n153_652" cx="153" cy="652" r="6"/><circle id="n180_647" cx="180" cy="647" r="6"/><circle id="n165_664" cx="165" cy="664" r="6"/><circle id="n187_660" cx="187" cy="660" r="6"/><circle id="n194_677" cx="194" cy="677" r="6"/><circle id="n209_669" cx="209" cy="669" r="6"/>
<circle id="n236_605" cx="236" cy="605" r="6"/><circle id="n271_602" cx="271" cy="602" r="6"/><circle id="n236_617" cx="236" cy="617" r="6"/><circle id="n257_621" cx="257" cy="621" r="6"/><circle id="n275_626" cx="275" cy="626" r="6"/><circle id="n238_629" cx="238" cy="629" r="6"/><circle id="n250_642" cx="250" cy="642" r="6"/><circle id="n265_641" cx="265" cy="641" r="6"/><circle id="n281_637" cx="281" cy="637" r="6"/><circle id="n273_655" cx="273" cy="655" r="6"/><circle id="n293_649" cx="293" cy="649" r="6"/><circle id="n296_662" cx="296" cy="662" r="6"/><circle id="n309_625" cx="309" cy="625" r="6"/><circle id="n323_629" cx="323" cy="629" r="6"/><circle id="n343_654" cx="343" cy="654" r="6"/><circle id="n326_679" cx="326" cy="679" r="6"/><circle id="n274_727" cx="274" cy="727" r="6"/><circle id="n375_791" cx="375" cy="791" r="6"/>
<circle id="n385_555" cx="385" cy="555" r="6"/><circle id="n404_538" cx="404" cy="538" r="6"/><circle id="n413_624" cx="413" cy="624" r="6"/><circle id="n413_639" cx="413" cy="639" r="6"/><circle id="n424_644" cx="424" cy="644" r="6"/><circle id="n440_709" cx="440" cy="709" r="6"/>
</g>
<g id="cluster-bottom">
<circle id="n488_577" cx="488" cy="577" r="6"/><circle id="n517_592" cx="517" cy="592" r="6"/><circle id="n553_589" cx="553" cy="589" r="6"/><circle id="n551_598" cx="551" cy="598" r="6"/><circle id="n510_611" cx="510" cy="611" r="6"/><circle id="n520_615" cx="520" cy="615" r="6"/><circle id="n509_623" cx="509" cy="623" r="6"/><circle id="n539_619" cx="539" cy="619" r="6"/><circle id="n549_626" cx="549" cy="626" r="6"/><circle id="n560_627" cx="560" cy="627" r="6"/><circle id="n570_613" cx="570" cy="613" r="6"/><circle id="n573_623" cx="573" cy="623" r="6"/><circle id="n585_628" cx="585" cy="628" r="6"/><circle id="n580_638" cx="580" cy="638" r="6"/><circle id="n563_638" cx="563" cy="638" r="6"/><circle id="n539_635" cx="539" cy="635" r="6"/><circle id="n546_643" cx="546" cy="643" r="6"/><circle id="n533_647" cx="533" cy="647" r="6"/><circle id="n564_648" cx="564" cy="648" r="6"/><circle id="n608_657" cx="608" cy="657" r="6"/><circle id="n621_656" cx="621" cy="656" r="6"/><circle id="n586_672" cx="586" cy="672" r="6"/><circle id="n633_683" cx="633" cy="683" r="6"/><circle id="n652_677" cx="652" cy="677" r="6"/><circle id="n649_687" cx="649" cy="687" r="6"/><circle id="n639_692" cx="639" cy="692" r="6"/><circle id="n663_689" cx="663" cy="689" r="6"/><circle id="n621_692" cx="621" cy="692" r="6"/><circle id="n638_701" cx="638" cy="701" r="6"/><circle id="n683_670" cx="683" cy="670" r="6"/><circle id="n677_678" cx="677" cy="678" r="6"/><circle id="n664_709" cx="664" cy="709" r="6"/>
<circle id="n532_792" cx="532" cy="792" r="6"/><circle id="n556_796" cx="556" cy="796" r="6"/><circle id="n581_797" cx="581" cy="797" r="6"/><circle id="n653_796" cx="653" cy="796" r="6"/><circle id="n676_796" cx="676" cy="796" r="6"/><circle id="n701_795" cx="701" cy="795" r="6"/>
</g>
</g>
<g id="hubs" class="h">
<g id="P"><circle cx="206" cy="372" r="14"/><text x="206" y="377" font-size="15">P</text></g>
<g id="H"><circle cx="263" cy="397" r="16"/><text x="263" y="404" font-size="20">H</text></g>
<g id="J"><circle cx="291" cy="382" r="29"/><text x="291" y="395" font-size="38">J</text></g>
<g id="O"><circle cx="298" cy="454" r="20"/><text x="298" y="462" font-size="24">O</text></g>
<g id="L"><circle cx="337" cy="478" r="23"/><text x="337" y="488" font-size="30">L</text></g>
<g id="E"><circle cx="371" cy="512" r="37"/><text x="371" y="528" font-size="47">E</text></g>
<g id="F"><circle cx="411" cy="563" r="25"/><text x="411" y="573" font-size="30">F</text></g>
<g id="K"><circle cx="490" cy="599" r="15"/><text x="490" y="606" font-size="20">K</text></g>
<g id="N"><circle cx="477" cy="624" r="20"/><text x="477" y="634" font-size="30">N</text></g>
<g id="B"><circle cx="468" cy="663" r="13"/><text x="468" y="669" font-size="17">B</text></g>
<g id="D"><circle cx="435" cy="367" r="34"/><text x="435" y="383" font-size="46">D</text></g>
<g id="I"><circle cx="447" cy="227" r="20"/><text x="447" y="235" font-size="22">I</text></g>
<g id="R"><circle cx="539" cy="303" r="18"/><text x="539" y="311" font-size="22">R</text></g>
<g id="Q"><circle cx="615" cy="613" r="22"/><text x="615" y="623" font-size="30">Q</text></g>
<g id="M"><circle cx="669" cy="606" r="24"/><text x="669" y="616" font-size="30">M</text></g>
<g id="C"><circle cx="777" cy="369" r="57"/><text x="777" y="396" font-size="80">C</text></g>
<g id="G"><circle cx="806" cy="542" r="45"/><text x="806" y="559" font-size="51">G</text></g>
<g id="Z"><circle cx="976" cy="19" r="12"/><text x="976" y="24" font-size="13">Z</text></g>
<g id="Y"><circle cx="1146" cy="24" r="12"/><text x="1146" y="29" font-size="13">Y</text></g>
</g>
</svg>
